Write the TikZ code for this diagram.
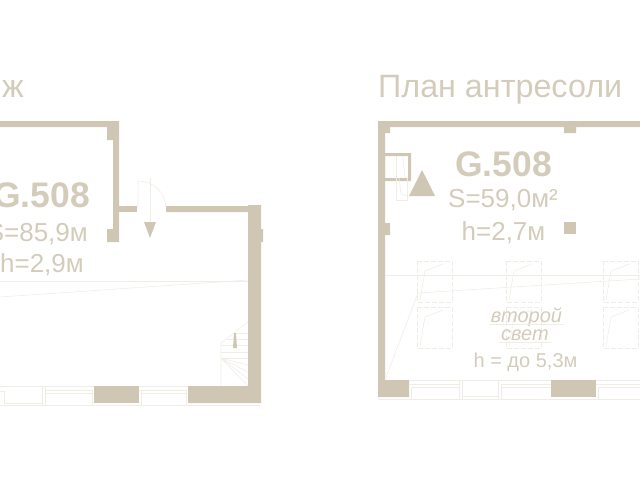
\documentclass[tikz,border=0pt]{standalone}
\usepackage{fontspec}
\setmainfont{Liberation Sans}
\definecolor{wallc}{HTML}{CFC7B4}
\definecolor{textc}{HTML}{D4CCBB}
\definecolor{thinc}{HTML}{F0EDE6}
\tikzset{
  wall/.style={fill=wallc,draw=none},
  thin line/.style={draw=thinc,line width=0.6pt},
  title/.style={inner sep=0,text=textc,font=\fontsize{32.3}{33}\selectfont},
  room/.style={inner sep=0,text=textc,font=\fontsize{35.5}{36}\selectfont\bfseries},
  info/.style={inner sep=0,text=textc,font=\fontsize{26}{26}\selectfont},
  note/.style={inner sep=0,text=textc,font=\fontsize{20}{20}\selectfont}
}
\begin{document}
\begin{tikzpicture}[x=1pt,y=-1pt]
\useasboundingbox (0,0) rectangle (640,480);
% left plan
\node[title,anchor=base west] (titleleft) at (2,97) {ж};
\fill[wall] (0,121) -- (119,121) -- (119,242) -- (107,242) -- (107,229) -- (113,229)
  -- (113,140) -- (107,140) -- (107,127) -- (0,127) -- cycle;
\fill[wall] (119,206) rectangle (137,212);
\fill[wall] (166,206) -- (248,206) -- (248,205) -- (261,205) -- (261,229) -- (263,229) -- (263,242)
  -- (261,242) -- (261,403) -- (188,403) -- (188,386) -- (248,386) -- (248,212) -- (166,212) -- cycle;
\fill[wall] (94,386) rectangle (139,403);
\node[room,anchor=base east] (roomleft) at (90,207) {G.508};
\node[info,anchor=base east] (arealeft) at (88,241) {S=85,9м};
\node[info,anchor=base east] (heightleft) at (84,272) {h=2,9м};
% door
\draw[thin line] (138,208) -- (138,181) arc[start angle=90,end angle=0,x radius=28,y radius=-27];
\draw[thin line] (150,178) -- (150,224);
\fill[wall] (144,222) -- (156,222) -- (150,238) -- cycle;
% faint lines
\draw[thin line] (0,281) -- (248,281);
\draw[thin line] (0,297) -- (248,280);
% stairs
\draw[thin line] (221,386) -- (221,343) -- (248,322);
\draw[thin line] (234,333) -- (248,333) (227,339) -- (248,339) (221,345) -- (248,345) (221,352) -- (248,352) (221,358) -- (248,358);
\foreach \y in {365,372,379,386} \draw[thin line] (221,358) -- (248,\y);
\fill[wall] (234,333) -- (236,333) -- (237,348) -- (233,348) -- cycle;
% left windows
\draw[thin line] (0,386) -- (94,386);
\draw[thin line] (139,386) -- (188,386);
\draw[thin line] (0,405) -- (260,405);
\draw[thin line] (0,391) -- (4,391) -- (4,403);
\draw[thin line] (4,403) -- (42,403);
\draw[thin line] (42,386) -- (42,405) (45,386) -- (45,405);
\draw[thin line] (45,390) -- (92,390) (45,393) -- (92,393) (92,390) -- (92,405);
\draw[thin line] (139,390) -- (186,390) (141,393) -- (186,393) (141,390) -- (141,405) (186,390) -- (186,405);
% right plan
\node[title,anchor=base west] (titleright) at (378,97) {План антресоли};
\fill[wall] (378,121) -- (640,121) -- (640,127) -- (576,127) -- (576,133) -- (564,133) -- (564,127)
  -- (390,127) -- (390,133) -- (385,133) -- (385,223) -- (390,223) -- (390,235) -- (385,235)
  -- (385,380) -- (409,380) -- (409,397) -- (378,397) -- cycle;
\fill[wall] (564,222) rectangle (576,234);
\fill[wall] (551,380) rectangle (596,397);
\fill[wall,even odd rule] (385,153) rectangle (411,181) (385,156) rectangle (408,178);
\fill[wall] (422,170) -- (435,196) -- (409,196) -- cycle;
\draw[thin line] (396,156) -- (396,200) -- (407,200) -- (407,178);
\draw[thin line] (403,156) -- (405,178) (399,178) -- (401,194) -- (407,196);
\node[room,anchor=base] (roomright) at (503.5,176.5) {G.508};
\node[info,anchor=base] (arearight) at (503,207.5) {S=59,0м²};
\node[info,anchor=base] (heightright) at (503.5,240) {h=2,7м};
% second light
\draw[thin line] (385,275) -- (640,275);
\draw[thin line] (385,380) -- (418,293) -- (640,279);
\foreach \x in {417,506,603} {
  \foreach \y in {261,307} {
    \draw[thin line,dash pattern=on 5pt off 2pt] (\x,\y) rectangle ++(35,41);
    \draw[thin line] (\x+26,\y+3) -- (\x+8,\y+10) -- (\x+3,\y+39);
  }
}
\node[note,anchor=base,font=\fontsize{20}{20}\selectfont\itshape] (lightone) at (526.5,322) {второй};
\node[note,anchor=base,font=\fontsize{20}{20}\selectfont\itshape] (lighttwo) at (525,340) {свет};
\draw[thin line] (489,324) -- (564,324) (499,342) -- (551,342);
\node[note,anchor=base] (heightlight) at (525.5,367) {h = до 5,3м};
% right windows
\draw[thin line] (409,380) -- (551,380) (596,380) -- (640,380);
\draw[thin line] (378,399) -- (640,399);
\draw[thin line] (409,384) -- (459,384) (411,387) -- (459,387) (411,387) -- (411,399) (459,380) -- (459,399) (462,380) -- (462,399);
\draw[thin line] (462,396) -- (498,396) (498,380) -- (498,399) (501,384) -- (551,384) (501,387) -- (551,387) (501,384) -- (501,399);
\draw[thin line] (596,384) -- (640,384) (598,387) -- (640,387) (598,387) -- (598,399);
\end{tikzpicture}
\end{document}
